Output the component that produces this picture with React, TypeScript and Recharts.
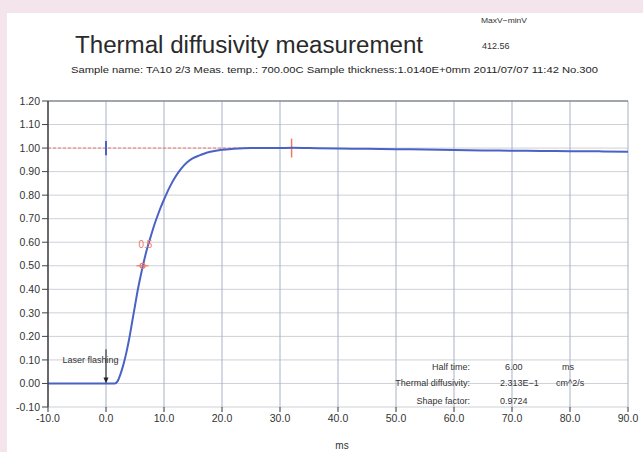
import React from 'react';
import {
  LineChart,
  Line,
  XAxis,
  YAxis,
  CartesianGrid,
  ReferenceLine,
  ReferenceDot,
} from 'recharts';

// rise curve (ms vs normalised signal)
const times = [-10, -5, 0, 1.5, 2, 2.5, 3, 3.5, 4, 4.5, 5, 5.5, 6, 6.5, 7, 7.5, 8, 8.5, 9, 9.5, 10, 11, 12, 13, 14, 15, 16, 17, 18, 20, 22, 25, 30, 32, 35, 40, 45, 50, 55, 60, 65, 70, 75, 80, 85, 90];
const signal = [0, 0, 0, 0, 0.01, 0.04, 0.08, 0.13, 0.19, 0.26, 0.33, 0.4, 0.46, 0.515, 0.565, 0.607, 0.648, 0.686, 0.72, 0.752, 0.781, 0.835, 0.879, 0.914, 0.94, 0.957, 0.968, 0.977, 0.984, 0.993, 0.997, 1.0, 1.0, 1.001, 1.0, 0.998, 0.997, 0.995, 0.994, 0.992, 0.99, 0.989, 0.988, 0.987, 0.986, 0.984];

const xTicks = [-10, 0, 10, 20, 30, 40, 50, 60, 70, 80, 90];
const yTicks = [-0.1, 0, 0.1, 0.2, 0.3, 0.4, 0.5, 0.6, 0.7, 0.8, 0.9, 1.0, 1.1, 1.2];

const halfPoint = { t: 6.3, v: 0.5 };
const endMark = 32;

const data = times.map((t, i) => ({ t, v: signal[i] }));

const FONT = '"Liberation Sans", Arial, sans-serif';
const RED = '#f07866';
const BLUE = '#4a62c6';

export default function App() {
  return (
    <div style={{ position: 'absolute', left: 0, top: 0, width: 643, height: 452, background: '#f4e4eb', fontFamily: FONT }}>
      <div style={{ position: 'absolute', left: 7, top: 13, right: 0, bottom: 0, background: '#fff' }} />
      <div style={{ position: 'absolute', left: 0, top: 0 }}>
        <LineChart width={643} height={452} data={data} margin={{ top: 101, right: 15, left: 0, bottom: 15 }}>
          <CartesianGrid vertical={false} stroke="#cdd0d7" />
          <CartesianGrid horizontal={false} stroke="#a8b1c6" />
          <XAxis
            type="number"
            dataKey="t"
            domain={[-10, 90]}
            ticks={xTicks}
            tickFormatter={(v: number) => v.toFixed(1)}
            axisLine={false}
            tickLine={{ stroke: '#333' }}
            tickSize={5}
            tickMargin={3}
            tick={{ fontSize: 10.5, fill: '#333', fontFamily: FONT }}
            height={30}
          />
          <YAxis
            type="number"
            domain={[-0.1, 1.2]}
            ticks={yTicks}
            tickFormatter={(v: number) => v.toFixed(2)}
            axisLine={{ stroke: '#444', strokeWidth: 1.5 }}
            tickLine={{ stroke: '#444' }}
            tickSize={6}
            tick={{ fontSize: 10.5, fill: '#333', fontFamily: FONT }}
            width={48}
            allowDataOverflow
          />
          <ReferenceLine y={1.2} stroke="#8a8f98" strokeWidth={1.5} />
          <ReferenceLine
            segment={[{ x: -10, y: 1 }, { x: endMark, y: 1 }]}
            stroke={RED}
            strokeDasharray="3 2"
          />
          <ReferenceLine segment={[{ x: 0, y: 0.97 }, { x: 0, y: 1.03 }]} stroke={BLUE} strokeWidth={2} />
          <ReferenceLine segment={[{ x: endMark, y: 0.96 }, { x: endMark, y: 1.04 }]} stroke={RED} strokeWidth={1.5} />
          <ReferenceLine segment={[{ x: 0, y: 0.145 }, { x: 0, y: 0.01 }]} stroke="#222" strokeWidth={1} />
          <ReferenceDot
            x={0}
            y={0}
            r={0}
            shape={(p: any) => (
              <path d={`M${p.cx - 2.5},${p.cy - 6} L${p.cx + 2.5},${p.cy - 6} L${p.cx},${p.cy} Z`} fill="#222" />
            )}
          />
          <ReferenceDot
            x={-7.5}
            y={0.1}
            r={0}
            shape={(p: any) => (
              <text x={p.cx} y={p.cy} dominantBaseline="central" fontSize={9} fill="#333" fontFamily={FONT}>
                Laser flashing
              </text>
            )}
          />
          <Line type="monotone" dataKey="v" stroke={BLUE} strokeWidth={2} dot={false} isAnimationActive={false} />
          <ReferenceDot
            x={halfPoint.t}
            y={halfPoint.v}
            r={0}
            shape={(p: any) => (
              <g stroke={RED} fill="none" strokeWidth={1.2}>
                <line x1={p.cx - 6} y1={p.cy} x2={p.cx + 6} y2={p.cy} />
                <circle cx={p.cx} cy={p.cy} r={2.5} />
              </g>
            )}
          />
          <ReferenceDot
            x={6.8}
            y={0.59}
            r={0}
            shape={(p: any) => (
              <text x={p.cx} y={p.cy} textAnchor="middle" dominantBaseline="central" fontSize={10} fill={RED} fontFamily={FONT}>
                0.5
              </text>
            )}
          />
        </LineChart>
      </div>
      <svg width={643} height={452} style={{ position: 'absolute', left: 0, top: 0, pointerEvents: 'none' }} fontFamily={FONT}>
        <text x={75} y={53} fontSize={23} fill="#2a2a2a" textLength={348} lengthAdjust="spacingAndGlyphs">
          Thermal diffusivity measurement
        </text>
        <text x={481} y={23} fontSize={8} fill="#333" textLength={46} lengthAdjust="spacingAndGlyphs">MaxV−minV</text>
        <text x={482} y={49} fontSize={9} fill="#333">412.56</text>
        <text x={71} y={73} fontSize={9.5} fill="#1e1e1e" textLength={527} lengthAdjust="spacingAndGlyphs">
          Sample name: TA10 2/3 Meas. temp.: 700.00C Sample thickness:1.0140E+0mm 2011/07/07 11:42  No.300
        </text>
        <g fontSize={9} fill="#333">
          <text x={470} y={370} textAnchor="end">Half time:</text>
          <text x={505} y={370}>6.00</text>
          <text x={562} y={370}>ms</text>
          <text x={470} y={386} textAnchor="end">Thermal diffusivity:</text>
          <text x={500} y={386}>2.313E−1</text>
          <text x={556} y={386}>cm^2/s</text>
          <text x={470} y={404} textAnchor="end">Shape factor:</text>
          <text x={500} y={404}>0.9724</text>
        </g>
        <text x={342} y={449} fontSize={10} fill="#333" textAnchor="middle">ms</text>
      </svg>
    </div>
  );
}
